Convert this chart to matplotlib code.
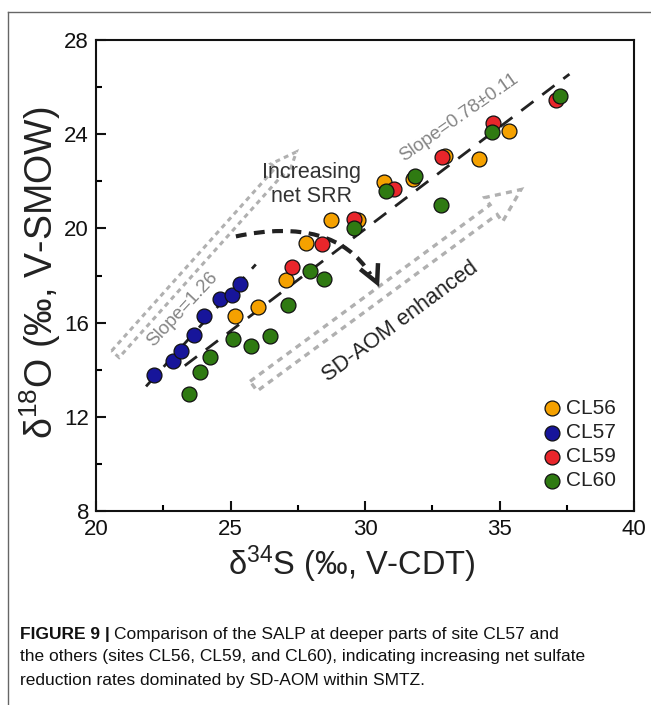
import numpy as np
import matplotlib
matplotlib.use("Agg")
import matplotlib.pyplot as plt
from matplotlib.lines import Line2D
from matplotlib.path import Path
from matplotlib.patches import PathPatch, Polygon

plt.rcParams['font.family'] = ['Liberation Sans', 'DejaVu Sans']
plt.rcParams['mathtext.fontset'] = 'custom'
plt.rcParams['mathtext.rm'] = 'Liberation Sans'
plt.rcParams['mathtext.it'] = 'Liberation Sans'

# ---- data ----
cl56_x = [25.17, 26.03, 27.06, 27.81, 28.72, 29.75, 30.71, 31.80, 32.97, 34.24, 35.36]
cl56_y = [16.27, 16.68, 17.83, 19.37, 20.34, 20.37, 21.97, 22.10, 23.08, 22.96, 24.13]
cl57_x = [22.17, 22.85, 23.15, 23.65, 24.01, 24.61, 25.07, 25.35]
cl57_y = [13.77, 14.35, 14.81, 15.49, 16.26, 16.99, 17.19, 17.62]
cl59_x = [27.27, 28.41, 29.60, 31.08, 32.85, 34.77, 37.10]
cl59_y = [18.35, 19.35, 20.41, 21.66, 23.04, 24.46, 25.45]
cl60_x = [23.45, 23.85, 24.25, 25.08, 25.77, 26.47, 27.15, 27.96, 28.48, 29.60, 30.78, 31.86, 32.83, 34.71, 37.25]
cl60_y = [12.97, 13.89, 14.52, 15.31, 15.02, 15.42, 16.75, 18.21, 17.86, 20.03, 21.59, 22.21, 20.98, 24.10, 25.63]

fit57_x = [21.86, 25.94]
fit57_y = [13.29, 18.47]
fitall_x = [23.30, 37.60]
fitall_y = [14.17, 26.55]

series = [
    ("CL56", cl56_x, cl56_y, "#F5A100"),
    ("CL57", cl57_x, cl57_y, "#17159A"),
    ("CL59", cl59_x, cl59_y, "#E8262B"),
    ("CL60", cl60_x, cl60_y, "#2F7A12"),
]

W, H = 651, 705
fig = plt.figure(figsize=(W / 100, H / 100), dpi=100)
ax = fig.add_axes([96 / W, 1 - 511 / H, (634 - 96) / W, (511 - 40) / H])
ax.set_xlim(20, 40)
ax.set_ylim(8, 28)

# figure frame lines (left and top)
fig.add_artist(Line2D([8 / W, 8 / W], [0, 1 - 12 / H], color="#666666", lw=1.0))
fig.add_artist(Line2D([8 / W, 1], [1 - 12 / H, 1 - 12 / H], color="#666666", lw=1.0))

# gray hollow arrows (built in display space)
def hollow_arrow(tail, tip, shaft_hw, head_hw, head_len, **kw):
    T = ax.transData
    p0 = np.array(T.transform(tail))
    p1 = np.array(T.transform(tip))
    d = p1 - p0
    L = np.hypot(*d)
    u = d / L
    n = np.array([-u[1], u[0]])
    base = p1 - u * head_len
    pts = [p0 + n * shaft_hw, base + n * shaft_hw, base + n * head_hw, p1,
           base - n * head_hw, base - n * shaft_hw, p0 - n * shaft_hw]
    pts = T.inverted().transform(np.array(pts))
    ax.add_patch(Polygon(pts, closed=True, fill=False, **kw))

hollow_arrow((20.72, 14.66), (27.45, 23.25), 5, 11, 26,
             edgecolor="#b0b0b0", lw=2.2, linestyle=(0, (1.6, 1.4)), zorder=1)
hollow_arrow((25.86, 13.30), (35.80, 21.65), 6, 15, 34,
             edgecolor="#b0b0b0", lw=2.4, linestyle=(0, (1.8, 1.6)), zorder=1)

# regression lines
ax.plot(fit57_x, fit57_y, color="#222222", lw=2.0, dashes=(5.5, 4), zorder=2)
ax.plot(fitall_x, fitall_y, color="#222222", lw=2.0, dashes=(5.5, 4), zorder=2)

# curved dashed arrow
verts = [(25.2, 19.66), (27.6, 20.25), (29.3, 19.7), (30.2, 18.05)]
curve = Path(verts, [Path.MOVETO, Path.CURVE4, Path.CURVE4, Path.CURVE4])
ax.add_patch(PathPatch(curve, fill=False, edgecolor="#222222", lw=3.0,
                       linestyle=(0, (2.6, 1.8)), zorder=2))
ax.plot([29.89, 30.45, 30.48], [18.21, 17.70, 18.43], color="#222222",
        lw=3.2, solid_joinstyle="miter", zorder=2)

# scatter points
for name, xs, ys, c in series:
    ax.scatter(xs, ys, s=115, color=c, edgecolor="#111111", linewidth=0.9,
               zorder=3, label=name)

# annotations
ax.text(23.2, 16.55, "Slope=1.26", rotation=47, color="#858585", fontsize=13.5,
        ha="center", va="center", rotation_mode="anchor")
ax.text(33.5, 24.72, "Slope=0.78±0.11", rotation=35, color="#858585", fontsize=13.5,
        ha="center", va="center", rotation_mode="anchor")
ax.text(28.0, 21.87, "Increasing\nnet SRR", color="#333333", fontsize=15.5,
        ha="center", va="center", linespacing=1.2)
ax.text(31.30, 16.04, "SD-AOM enhanced", rotation=36.5, color="#222222", fontsize=15.7,
        ha="center", va="center", rotation_mode="anchor")

# axes styling
for sp in ax.spines.values():
    sp.set_linewidth(1.5)
    sp.set_color("#111111")
ax.set_xticks([20, 25, 30, 35, 40])
ax.set_yticks([8, 12, 16, 20, 24, 28])
ax.set_xticks([22.5, 27.5, 32.5, 37.5], minor=True)
ax.set_yticks([10, 14, 18, 22, 26], minor=True)
ax.tick_params(which="major", direction="in", length=7, width=1.5, labelsize=16,
               colors="#111111", top=False, right=False, pad=5)
ax.tick_params(which="minor", direction="in", length=4, width=1.5,
               top=False, right=False)
ax.tick_params(axis="x", pad=6)

ax.set_xlabel(r"δ$^{34}$S (‰, V-CDT)", fontsize=23.5, color="#222222",
              va="center", ha="center")
ax.xaxis.set_label_coords((352 - 96) / 538, (511 - 564) / 471)
ax.set_ylabel(r"δ$^{18}$O (‰, V-SMOW)", fontsize=27, color="#222222",
              va="center", ha="center")
ax.yaxis.set_label_coords((40 - 96) / 538, (511 - 273) / 471)

leg = ax.legend(loc="lower right", bbox_to_anchor=(0.99, 0.017), frameon=False,
                fontsize=15, handletextpad=0.1, labelspacing=0.25,
                borderaxespad=0.2, handlelength=1.2, scatterpoints=1)
for t in leg.get_texts():
    t.set_color("#222222")

# caption
fig.canvas.draw()
r = fig.canvas.get_renderer()
cap_fs = 12.5
cap_family = ['Liberation Sans Narrow', 'Liberation Sans', 'DejaVu Sans']
t1 = fig.text(20 / W, 1 - 634 / H, "FIGURE 9 |", fontsize=cap_fs, fontweight="bold",
              family=cap_family, va="center", ha="left", color="#111111")
bb = t1.get_window_extent(r)
fig.text((bb.x1 + 4) / W, 1 - 634 / H,
         "Comparison of the SALP at deeper parts of site CL57 and",
         fontsize=cap_fs, family=cap_family, va="center", ha="left", color="#111111")
fig.text(20 / W, 1 - 657 / H,
         "the others (sites CL56, CL59, and CL60), indicating increasing net sulfate",
         fontsize=cap_fs, family=cap_family, va="center", ha="left", color="#111111")
fig.text(20 / W, 1 - 680 / H,
         "reduction rates dominated by SD-AOM within SMTZ.",
         fontsize=cap_fs, family=cap_family, va="center", ha="left", color="#111111")

fig.savefig("out.png", dpi=100)
